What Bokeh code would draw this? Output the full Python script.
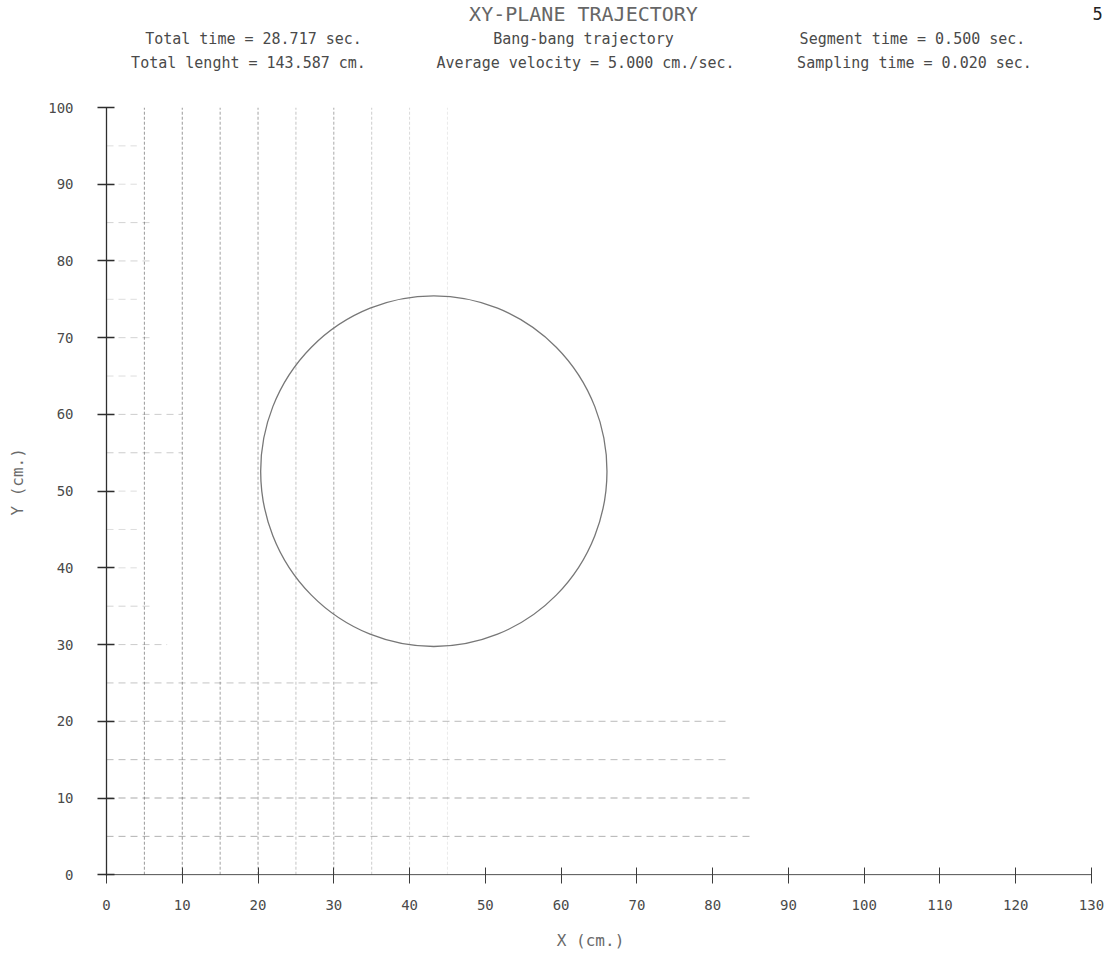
import numpy as np
from bokeh.plotting import figure
from bokeh.layouts import column
from bokeh.models import FixedTicker, Range1d
from bokeh.core.properties import value
from bokeh.embed import file_html
from bokeh.resources import INLINE

# --- trajectory parameters -------------------------------------------------
total_time = 28.717        # sec
total_length = 143.587     # cm
segment_time = 0.500       # sec
sampling_time = 0.020      # sec
avg_velocity = 5.000       # cm/sec
center_x = 43.2            # cm
center_y = 52.6            # cm
radius = total_length / (2 * np.pi)

# --- axes ------------------------------------------------------------------
x_ticks = [0, 10, 20, 30, 40, 50, 60, 70, 80, 90, 100, 110, 120, 130]
y_ticks = [0, 10, 20, 30, 40, 50, 60, 70, 80, 90, 100]
x_max = 130
y_max = 100

# --- faint plotter grid ----------------------------------------------------
v_grid_x = [5, 10, 15, 20, 25, 30, 35, 40, 45]
v_grid_top = [100, 100, 100, 100, 100, 100, 100, 100, 100]
v_grid_alpha = [0.6, 0.6, 0.55, 0.55, 0.35, 0.5, 0.3, 0.22, 0.12]

h_grid_y = [5, 10, 15, 20, 25, 30, 35, 40, 45, 50, 55, 60, 65, 70, 75, 80, 85, 90, 95]
h_grid_end = [85, 85, 82, 82, 36, 8, 6, 4, 4, 4, 10, 10, 4, 6, 4, 6, 6, 4, 4]
h_grid_alpha = [0.45, 0.5, 0.4, 0.4, 0.35, 0.3, 0.25, 0.2, 0.2, 0.2, 0.3, 0.3,
                0.2, 0.25, 0.2, 0.25, 0.25, 0.2, 0.2]

FONT = "DejaVu Sans Mono"
INK = "#4a4a4a"
NBSP = "\u00a0"
W = 1106
HEAD_H = 95
PLOT_H = 959 - HEAD_H
FRAME_L = 106
FRAME_R = 3
AXIS_PX = 985                      # pixel length of the 0..130 x axis
FRAME_W = W - FRAME_L - FRAME_R
x_end = x_max * FRAME_W / AXIS_PX  # a little room right of the last tick

# --- header: title and run information -------------------------------------
# the header frame lines up with the plot frame; its x range is page pixels
head = figure(width=W, height=HEAD_H, output_backend="svg", toolbar_location=None,
              x_range=Range1d(FRAME_L, W - FRAME_R), y_range=Range1d(HEAD_H, 0),
              x_axis_type=None, y_axis_type=None,
              min_border_left=FRAME_L, min_border_right=FRAME_R,
              min_border_top=0, min_border_bottom=0)
head.outline_line_color = None
head.xgrid.visible = False
head.ygrid.visible = False

head_text = ["XY-PLANE TRAJECTORY",
             f"Total time = {total_time:.3f} sec.",
             "Bang-bang trajectory",
             f"Segment time = {segment_time:.3f} sec.",
             f"Total lenght = {total_length:.3f} cm.",
             f"Average velocity = {avg_velocity:.3f} cm./sec.",
             f"Sampling time = {sampling_time:.3f} sec.",
             "5"]
head_x = [583, 253, 583, 912, 248, 585, 914, 1097]
head_y = [13, 38, 38, 38, 62, 62, 62, 13]
head_size = ["20px", "15px", "15px", "15px", "15px", "15px", "15px", "17px"]
head_color = ["#666666", INK, INK, INK, INK, INK, INK, "#222222"]
head.text(x=head_x, y=head_y, text=head_text, text_font=value(FONT),
          text_font_size=head_size, text_color=head_color,
          text_align="center", text_baseline="middle")

# --- main plot -------------------------------------------------------------
p = figure(width=W, height=PLOT_H, output_backend="svg", toolbar_location=None,
           x_range=Range1d(0, x_end), y_range=Range1d(-0.1, y_max),
           min_border_left=FRAME_L, min_border_right=FRAME_R,
           min_border_top=107 - HEAD_H, min_border_bottom=84)
p.outline_line_color = None
p.xgrid.visible = False
p.ygrid.visible = False

# grid lines
p.segment(x0=v_grid_x, y0=[0] * len(v_grid_x), x1=v_grid_x, y1=v_grid_top,
          line_color="#555555", line_alpha=v_grid_alpha, line_width=1,
          line_dash="3 2")
p.segment(x0=[0] * len(h_grid_y), y0=h_grid_y, x1=h_grid_end, y1=h_grid_y,
          line_color="#555555", line_alpha=h_grid_alpha, line_width=1,
          line_dash="7 5")

# x axis base line, stopping at the last tick
p.segment(x0=[0], y0=[0], x1=[x_max], y1=[0], line_color="#3c3c3c", line_width=1)

# circular trajectory
p.ellipse(x=[center_x], y=[center_y], width=[2 * radius], height=[2 * radius],
          fill_color=None, line_color="#777777", line_width=1.3)

# x axis
xa = p.xaxis[0]
xa.ticker = FixedTicker(ticks=x_ticks, minor_ticks=[])
xa.axis_line_color = None
xa.major_tick_line_color = "#3c3c3c"
xa.major_tick_in = 8
xa.major_tick_out = 8
xa.minor_tick_in = 0
xa.minor_tick_out = 0
xa.major_label_standoff = 16
xa.major_label_text_font = FONT
xa.major_label_text_font_size = "14px"
xa.major_label_text_color = INK
xa.axis_label = "X  (cm.)" + NBSP * 2
xa.axis_label_text_font = FONT
xa.axis_label_text_font_size = "16px"
xa.axis_label_text_font_style = "normal"
xa.axis_label_text_color = "#6a6a6a"
xa.axis_label_standoff = 18

# y axis
ya = p.yaxis[0]
ya.ticker = FixedTicker(ticks=y_ticks, minor_ticks=[])
ya.axis_line_color = "#2e2e2e"
ya.axis_line_width = 1.3
ya.major_tick_line_color = "#2e2e2e"
ya.major_tick_line_width = 1.3
ya.major_tick_in = 8
ya.major_tick_out = 9
ya.minor_tick_in = 0
ya.minor_tick_out = 0
ya.major_label_standoff = 24
ya.major_label_text_font = FONT
ya.major_label_text_font_size = "14px"
ya.major_label_text_color = INK
ya.axis_label = NBSP * 3 + "Y  (cm.)"
ya.axis_label_text_font = FONT
ya.axis_label_text_font_size = "16px"
ya.axis_label_text_font_style = "normal"
ya.axis_label_text_color = "#6a6a6a"
ya.axis_label_standoff = 18

layout = column(head, p, spacing=0)
open("out.html", "w").write(file_html(layout, INLINE))
